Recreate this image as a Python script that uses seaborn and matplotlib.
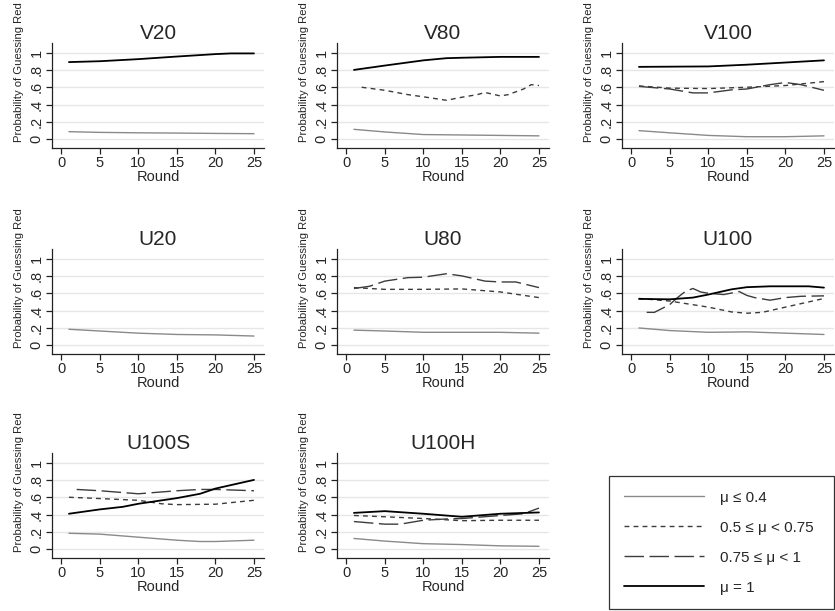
import numpy as np
import pandas as pd
import matplotlib
matplotlib.use("Agg")
import matplotlib.pyplot as plt
from matplotlib.lines import Line2D
import seaborn as sns

# panels in reading order
panels = ["V20", "V80", "V100", "U20", "U80", "U100", "U100S", "U100H"]
groups = ["μ ≤ 0.4", "0.5 ≤ μ < 0.75", "0.75 ≤ μ < 1", "μ = 1"]

# (rounds, smoothed probability), per panel and group
v20_low = ([1, 5, 10, 15, 20, 25], [0.088, 0.08, 0.075, 0.072, 0.068, 0.065])
v20_one = ([1, 5, 10, 15, 20, 22, 25], [0.89, 0.90, 0.924, 0.954, 0.982, 0.99, 0.99])

v80_low = ([1, 5, 10, 15, 20, 25], [0.115, 0.085, 0.055, 0.05, 0.045, 0.04])
v80_mid = ([2, 5, 8, 10, 13, 15, 17, 18, 20, 21, 23, 24, 25],
           [0.60, 0.565, 0.515, 0.49, 0.45, 0.485, 0.515, 0.54, 0.50, 0.515, 0.58, 0.63, 0.62])
v80_one = ([1, 5, 10, 13, 15, 20, 25], [0.80, 0.85, 0.91, 0.935, 0.94, 0.95, 0.95])

v100_low = ([1, 5, 10, 15, 20, 25], [0.10, 0.075, 0.045, 0.03, 0.03, 0.04])
v100_mid = ([1, 5, 10, 15, 20, 25], [0.615, 0.59, 0.585, 0.60, 0.62, 0.665])
v100_high = ([1, 5, 8, 10, 13, 15, 18, 20, 22, 25],
             [0.61, 0.58, 0.535, 0.535, 0.57, 0.58, 0.63, 0.655, 0.63, 0.565])
v100_one = ([1, 10, 15, 20, 25], [0.835, 0.84, 0.86, 0.885, 0.91])

u20_low = ([1, 5, 10, 15, 20, 25], [0.185, 0.165, 0.14, 0.125, 0.12, 0.107])

u80_low = ([1, 5, 10, 15, 20, 25], [0.175, 0.165, 0.15, 0.15, 0.15, 0.14])
u80_mid = ([1, 5, 10, 15, 20, 25], [0.665, 0.645, 0.645, 0.65, 0.615, 0.55])
u80_high = ([1, 3, 5, 8, 10, 13, 15, 18, 20, 22, 25],
            [0.655, 0.68, 0.74, 0.78, 0.785, 0.825, 0.80, 0.74, 0.73, 0.73, 0.665])

u100_low = ([1, 5, 10, 15, 20, 25], [0.20, 0.17, 0.15, 0.155, 0.14, 0.125])
u100_mid = ([1, 5, 10, 13, 15, 17, 20, 25], [0.54, 0.51, 0.44, 0.385, 0.37, 0.38, 0.44, 0.54])
u100_high = ([2, 3, 5, 6, 7, 8, 9, 10, 12, 14, 15, 16, 18, 20, 22, 25],
             [0.38, 0.38, 0.47, 0.55, 0.62, 0.655, 0.615, 0.60, 0.585, 0.62, 0.575, 0.55, 0.52, 0.55, 0.565, 0.57])
u100_one = ([1, 5, 8, 10, 13, 15, 18, 20, 23, 25],
            [0.535, 0.53, 0.55, 0.585, 0.645, 0.67, 0.68, 0.68, 0.68, 0.665])

u100s_low = ([1, 5, 10, 15, 18, 20, 25], [0.185, 0.175, 0.14, 0.105, 0.09, 0.09, 0.105])
u100s_mid = ([1, 5, 10, 13, 15, 20, 25], [0.60, 0.585, 0.565, 0.525, 0.515, 0.52, 0.565])
u100s_high = ([2, 5, 10, 15, 18, 20, 25], [0.69, 0.675, 0.64, 0.675, 0.69, 0.69, 0.675])
u100s_one = ([1, 5, 8, 10, 15, 18, 20, 25], [0.41, 0.46, 0.49, 0.525, 0.59, 0.64, 0.70, 0.80])

u100h_low = ([1, 5, 10, 15, 20, 25], [0.125, 0.095, 0.065, 0.055, 0.04, 0.035])
u100h_mid = ([1, 5, 10, 15, 20, 25], [0.39, 0.375, 0.355, 0.33, 0.335, 0.335])
u100h_high = ([1, 5, 7, 10, 13, 15, 20, 23, 25], [0.32, 0.29, 0.29, 0.335, 0.35, 0.355, 0.39, 0.41, 0.475])
u100h_one = ([1, 5, 10, 15, 20, 25], [0.42, 0.44, 0.41, 0.375, 0.41, 0.425])

series = {
    "V20": [v20_low, None, None, v20_one],
    "V80": [v80_low, v80_mid, None, v80_one],
    "V100": [v100_low, v100_mid, v100_high, v100_one],
    "U20": [u20_low, None, None, None],
    "U80": [u80_low, u80_mid, u80_high, None],
    "U100": [u100_low, u100_mid, u100_high, u100_one],
    "U100S": [u100s_low, u100s_mid, u100s_high, u100s_one],
    "U100H": [u100h_low, u100h_mid, u100h_high, u100h_one],
}

rows = []
for panel in panels:
    for g, s in zip(groups, series[panel]):
        if s is None:
            continue
        for r, p in zip(*s):
            rows.append({"panel": panel, "group": g, "round": r, "prob": p})
df = pd.DataFrame(rows)

sns.set_theme(style="white")
plt.rcParams["font.family"] = ["Liberation Sans", "DejaVu Sans"]

palette = {groups[0]: "#8a8a8a", groups[1]: "#3c3c3c", groups[2]: "#3c3c3c", groups[3]: "#000000"}
dashes = {groups[0]: "", groups[1]: (3.5, 3), groups[2]: (14, 4), groups[3]: ""}
widths = {groups[0]: 1.0, groups[1]: 1.0, groups[2]: 1.0, groups[3]: 1.3}

W, H = 835, 611
fig = plt.figure(figsize=(W / 100, H / 100), dpi=100)

lefts = [52, 337, 622]
tops = [43, 249, 453]
aw, ah = 212, 105

for i, panel in enumerate(panels):
    r, c = divmod(i, 3)
    ax = fig.add_axes([lefts[c] / W, 1 - (tops[r] + ah) / H, aw / W, ah / H])
    sub = df[df["panel"] == panel]
    for g in groups:
        gs = sub[sub["group"] == g]
        if gs.empty:
            continue
        sns.lineplot(data=gs, x="round", y="prob", ax=ax, color=palette[g],
                     linewidth=widths[g], legend=False, estimator=None,
                     dashes=False)
        if dashes[g]:
            ax.lines[-1].set_dashes(dashes[g])
    ax.set_xlim(-1.2, 26.3)
    ax.set_ylim(-0.1, 1.11)
    ax.set_xticks([0, 5, 10, 15, 20, 25])
    ax.set_yticks([0, 0.2, 0.4, 0.6, 0.8, 1])
    ax.set_yticklabels(["0", ".2", ".4", ".6", ".8", "1"], rotation=90, va="center")
    ax.grid(axis="y", color="#e6e6e6", linewidth=1)
    ax.set_axisbelow(True)
    sns.despine(ax=ax)
    for sp in ["left", "bottom"]:
        ax.spines[sp].set_color("#222222")
        ax.spines[sp].set_linewidth(0.9)
    ax.tick_params(axis="both", which="both", direction="out", length=4, width=0.9,
                   color="#222222", labelsize=10.5, pad=2, bottom=True, left=True)
    ax.set_title(panel, fontsize=15, pad=3)
    ax.set_xlabel("Round", fontsize=10.5, labelpad=0)
    ax.set_ylabel("Probability of Guessing Red", fontsize=8.1)
    ax.yaxis.set_label_coords(-0.13, 0.72)

handles = [Line2D([], [], color=palette[g], linewidth=widths[g],
                  dashes=dashes[g] if dashes[g] else (None, None)) for g in groups]
for h, g in zip(handles, groups):
    if not dashes[g]:
        h.set_linestyle("-")
leg = fig.legend(handles, groups, loc="upper left",
                 bbox_to_anchor=(609 / W, 1 - 476 / H, (834 - 609) / W, 0),
                 mode="expand", borderaxespad=0, fontsize=11, frameon=True,
                 fancybox=False, handlelength=5.3, handletextpad=1.0,
                 labelspacing=1.05, borderpad=0.95)
leg.get_frame().set_edgecolor("black")
leg.get_frame().set_linewidth(0.9)

fig.savefig("out.png", dpi=100)
